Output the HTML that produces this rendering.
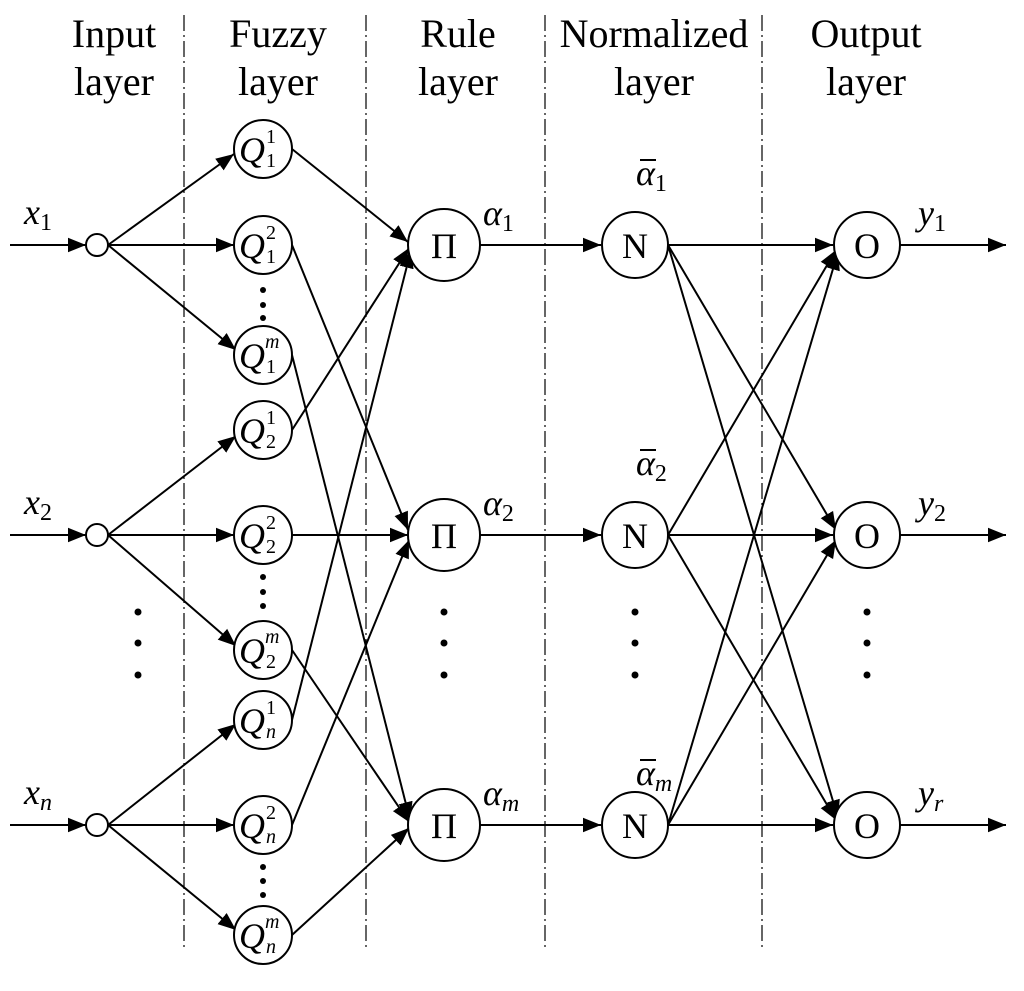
<!DOCTYPE html>
<html><head><style>body{margin:0;background:#fff}</style></head><body>
<svg width="1024" height="986" viewBox="0 0 1024 986" xmlns="http://www.w3.org/2000/svg" font-family="Liberation Serif, serif">
<defs><marker id="a" viewBox="0 0 10 10" refX="10" refY="5" markerWidth="18" markerHeight="18" markerUnits="userSpaceOnUse" orient="auto"><path d="M0,1L10,5L0,9z" fill="#000"/></marker></defs>
<g stroke="#000" stroke-width="1.2" stroke-dasharray="16,4,2,4">
<line x1="184" y1="15" x2="184" y2="950"/><line x1="366" y1="15" x2="366" y2="950"/><line x1="545" y1="15" x2="545" y2="950"/><line x1="762" y1="15" x2="762" y2="950"/>
</g>
<g font-size="40" text-anchor="middle" fill="#000">
<text x="114" y="47">Input</text><text x="114" y="95">layer</text>
<text x="278" y="47">Fuzzy</text><text x="278" y="95">layer</text>
<text x="458" y="47">Rule</text><text x="458" y="95">layer</text>
<text x="654" y="47">Normalized</text><text x="654" y="95">layer</text>
<text x="866" y="47">Output</text><text x="866" y="95">layer</text>
</g>
<g stroke="#000" stroke-width="2" fill="none" marker-end="url(#a)">
<line x1="10" y1="245" x2="86" y2="245"/><line x1="10" y1="535" x2="86" y2="535"/><line x1="10" y1="825" x2="86" y2="825"/>
<line x1="108" y1="245" x2="234" y2="154"/><line x1="108" y1="245" x2="234" y2="245"/><line x1="108" y1="245" x2="236" y2="350"/>
<line x1="108" y1="535" x2="236" y2="436"/><line x1="108" y1="535" x2="234" y2="535"/><line x1="108" y1="535" x2="236" y2="646"/>
<line x1="108" y1="825" x2="236" y2="724"/><line x1="108" y1="825" x2="234" y2="825"/><line x1="108" y1="825" x2="236" y2="930"/>
<line x1="292" y1="149" x2="408" y2="242"/><line x1="292" y1="430" x2="409" y2="248"/><line x1="292" y1="720" x2="411" y2="250"/>
<line x1="292" y1="245" x2="408" y2="530"/><line x1="292" y1="535" x2="408" y2="535"/><line x1="292" y1="825" x2="409" y2="540"/>
<line x1="292" y1="355" x2="410" y2="820"/><line x1="292" y1="650" x2="409" y2="822"/><line x1="292" y1="935" x2="409" y2="828"/>
<line x1="480" y1="245" x2="601" y2="245"/><line x1="480" y1="535" x2="601" y2="535"/><line x1="480" y1="825" x2="601" y2="825"/>
<line x1="668" y1="245" x2="833" y2="245"/><line x1="668" y1="245" x2="836" y2="530"/><line x1="668" y1="245" x2="838" y2="818"/>
<line x1="668" y1="535" x2="836" y2="250"/><line x1="668" y1="535" x2="833" y2="535"/><line x1="668" y1="535" x2="836" y2="820"/>
<line x1="668" y1="825" x2="838" y2="252"/><line x1="668" y1="825" x2="836" y2="540"/><line x1="668" y1="825" x2="833" y2="825"/>
<line x1="900" y1="245" x2="1006" y2="245"/><line x1="900" y1="535" x2="1006" y2="535"/><line x1="900" y1="825" x2="1006" y2="825"/>
</g>
<g stroke="#000" stroke-width="2" fill="#fff">
<circle cx="97" cy="245" r="11"/><circle cx="97" cy="535" r="11"/><circle cx="97" cy="825" r="11"/>
<circle cx="263" cy="149" r="29"/><circle cx="263" cy="245" r="29"/><circle cx="263" cy="355" r="29"/>
<circle cx="263" cy="430" r="29"/><circle cx="263" cy="535" r="29"/><circle cx="263" cy="650" r="29"/>
<circle cx="263" cy="720" r="29"/><circle cx="263" cy="825" r="29"/><circle cx="263" cy="935" r="29"/>
<circle cx="444" cy="245" r="36"/><circle cx="444" cy="535" r="36"/><circle cx="444" cy="825" r="36"/>
<circle cx="635" cy="245" r="33"/><circle cx="635" cy="535" r="33"/><circle cx="635" cy="825" r="33"/>
<circle cx="867" cy="245" r="33"/><circle cx="867" cy="535" r="33"/><circle cx="867" cy="825" r="33"/>
</g>
<g fill="#000">
<circle cx="263" cy="290" r="3"/><circle cx="263" cy="305" r="3"/><circle cx="263" cy="318" r="3"/>
<circle cx="263" cy="577" r="3"/><circle cx="263" cy="592" r="3"/><circle cx="263" cy="606" r="3"/>
<circle cx="263" cy="867" r="3"/><circle cx="263" cy="881" r="3"/><circle cx="263" cy="895" r="3"/>
<circle cx="138" cy="612" r="3.5"/><circle cx="138" cy="643" r="3.5"/><circle cx="138" cy="675" r="3.5"/>
<circle cx="444" cy="612" r="3.5"/><circle cx="444" cy="643" r="3.5"/><circle cx="444" cy="675" r="3.5"/>
<circle cx="635" cy="612" r="3.5"/><circle cx="635" cy="643" r="3.5"/><circle cx="635" cy="675" r="3.5"/>
<circle cx="867" cy="612" r="3.5"/><circle cx="867" cy="643" r="3.5"/><circle cx="867" cy="675" r="3.5"/>
</g>
<g fill="#000" font-size="36">
<text x="444" y="258" text-anchor="middle">Π</text><text x="444" y="548" text-anchor="middle">Π</text><text x="444" y="838" text-anchor="middle">Π</text>
<text x="635" y="258" text-anchor="middle">N</text><text x="635" y="548" text-anchor="middle">N</text><text x="635" y="838" text-anchor="middle">N</text>
<text x="867" y="258" text-anchor="middle">O</text><text x="867" y="548" text-anchor="middle">O</text><text x="867" y="838" text-anchor="middle">O</text>
</g>
<g fill="#000" font-size="36" font-style="italic">
<text x="239" y="162">Q</text><text x="239" y="258">Q</text><text x="239" y="368">Q</text>
<text x="239" y="443">Q</text><text x="239" y="548">Q</text><text x="239" y="663">Q</text>
<text x="239" y="733">Q</text><text x="239" y="838">Q</text><text x="239" y="948">Q</text>
<text x="24" y="224">x<tspan font-size="24" font-style="normal" dy="6">1</tspan></text>
<text x="24" y="514">x<tspan font-size="24" font-style="normal" dy="6">2</tspan></text>
<text x="24" y="804">x<tspan font-size="24" font-style="italic" dy="6">n</tspan></text>
<text x="483" y="225">α<tspan font-size="24" font-style="normal" dy="6">1</tspan></text>
<text x="483" y="515">α<tspan font-size="24" font-style="normal" dy="6">2</tspan></text>
<text x="483" y="805">α<tspan font-size="24" dy="6">m</tspan></text>
<text x="636" y="185">α<tspan font-size="24" font-style="normal" dy="6">1</tspan></text>
<text x="636" y="475">α<tspan font-size="24" font-style="normal" dy="6">2</tspan></text>
<text x="636" y="785">α<tspan font-size="24" dy="6">m</tspan></text>
<text x="918" y="225">y<tspan font-size="24" font-style="normal" dy="6">1</tspan></text>
<text x="918" y="515">y<tspan font-size="24" font-style="normal" dy="6">2</tspan></text>
<text x="918" y="805">y<tspan font-size="24" dy="6">r</tspan></text>
</g>
<g stroke="#000" stroke-width="2"><line x1="640" y1="160" x2="656" y2="160"/><line x1="640" y1="450" x2="656" y2="450"/><line x1="640" y1="760" x2="656" y2="760"/></g>
<g fill="#000" font-size="20">
<text x="266" y="143">1</text><text x="266" y="167">1</text>
<text x="266" y="239">2</text><text x="266" y="263">1</text>
<text x="265" y="348" font-style="italic">m</text><text x="266" y="373">1</text>
<text x="266" y="424">1</text><text x="266" y="448">2</text>
<text x="266" y="529">2</text><text x="266" y="553">2</text>
<text x="265" y="643" font-style="italic">m</text><text x="266" y="668">2</text>
<text x="266" y="714">1</text><text x="266" y="738" font-style="italic">n</text>
<text x="266" y="819">2</text><text x="266" y="843" font-style="italic">n</text>
<text x="265" y="928" font-style="italic">m</text><text x="266" y="953" font-style="italic">n</text>
</g>
</svg>
</body></html>
